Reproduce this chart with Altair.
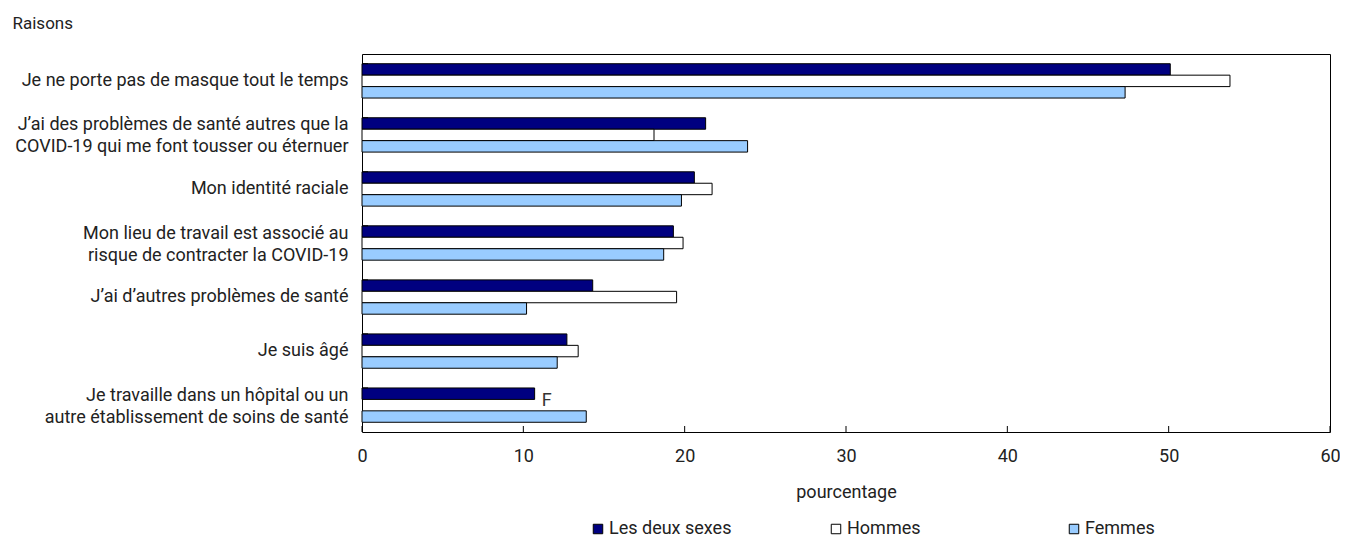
import altair as alt
import pandas as pd

categories = [
    "Je ne porte pas de masque tout le temps",
    "J’ai des problèmes de santé autres que la|COVID-19 qui me font tousser ou éternuer",
    "Mon identité raciale",
    "Mon lieu de travail est associé au|risque de contracter la COVID-19",
    "J’ai d’autres problèmes de santé",
    "Je suis âgé",
    "Je travaille dans un hôpital ou un|autre établissement de soins de santé",
]
series = ["Les deux sexes", "Hommes", "Femmes"]
both = [50.1, 21.3, 20.6, 19.3, 14.3, 12.7, 10.7]
men = [53.8, 18.1, 21.7, 19.9, 19.5, 13.4, None]
women = [47.3, 23.9, 19.8, 18.7, 10.2, 12.1, 13.9]
colors = ["#000080", "#ffffff", "#99ccff"]
x_ticks = [0, 10, 20, 30, 40, 50, 60]
note_category = categories[6]
note_text = "F"

rows = []
for i, c in enumerate(categories):
    for s, vals in zip(series, [both, men, women]):
        if vals[i] is not None:
            rows.append({"cat": c, "serie": s, "val": vals[i]})
df = pd.DataFrame(rows)
df_cats = pd.DataFrame({"cat": categories})
df_ticks = pd.DataFrame({"t": x_ticks})
df_note = pd.DataFrame({"cat": [note_category], "serie": ["Hommes"],
                        "val": [both[categories.index(note_category)]], "txt": [note_text]})

FONT = "Roboto, Liberation Sans, sans-serif"
FS = 18
W, H = 968, 378
TXT = "#222222"

xscale = alt.Scale(domain=[0, 60], nice=False)
yscale = alt.Scale(paddingInner=0.365, paddingOuter=0.18)

def ybuild(**kw):
    return alt.Y("cat:N", sort=categories, scale=yscale,
                 axis=alt.Axis(title="Raisons", titleAngle=0, titleAlign="left",
                               titleBaseline="alphabetic", titleX=-350, titleY=-26,
                               titleFont=FONT, titleFontSize=17, titleFontWeight="normal",
                               titleColor=TXT,
                               labelExpr="split(datum.label, '|')", labelFont=FONT,
                               labelFontSize=FS, labelColor=TXT, labelPadding=14,
                               labelLineHeight=22, labelLimit=400,
                               labelOffset={"condition": {"test": "indexof(datum.value, '|') >= 0",
                                                          "value": -9.5}, "value": 0},
                               ticks=False, domain=False, grid=False), **kw)

def xbuild(field):
    return alt.X(field, scale=xscale,
                 axis=alt.Axis(title="pourcentage", values=x_ticks, grid=False, ticks=False,
                               domain=False, labelFont=FONT, labelFontSize=FS,
                               labelColor=TXT, labelPadding=15, labelFlush=False,
                               titleFont=FONT, titleFontSize=FS, titleFontWeight="normal",
                               titleColor=TXT, titleBaseline="alphabetic", titleY=65))

bars = alt.Chart(df).mark_bar(stroke="black", strokeWidth=1).encode(
    x=xbuild("val:Q"),
    y=ybuild(),
    yOffset=alt.YOffset("serie:N", sort=series, scale=alt.Scale(paddingInner=0, paddingOuter=0)),
    color=alt.Color("serie:N", sort=series,
                    scale=alt.Scale(domain=series, range=colors),
                    legend=alt.Legend(title=None, orient="none", legendX=227, legendY=466,
                                      direction="horizontal", columns=3, gridAlign="all",
                                      symbolType="square", symbolSize=90,
                                      symbolStrokeColor="black", symbolStrokeWidth=1,
                                      labelFont=FONT, labelFontSize=FS, labelColor=TXT,
                                      labelOffset=2, columnPadding=95)),
)

ytick = alt.Chart(df_cats).mark_rule(color="black", strokeWidth=1).encode(
    y=ybuild(bandPosition=0),
    x=alt.value(0), x2=alt.value(6),
)

xtick = alt.Chart(df_ticks).mark_rule(color="black", strokeWidth=1).encode(
    x=xbuild("t:Q"),
    y=alt.value(H - 6), y2=alt.value(H),
)

note = alt.Chart(df_note).mark_text(align="left", baseline="middle", dx=7, dy=-4,
                                    font=FONT, fontSize=18, color="#333333").encode(
    x=xbuild("val:Q"),
    y=ybuild(),
    yOffset=alt.YOffset("serie:N", sort=series, scale=alt.Scale(paddingInner=0, paddingOuter=0)),
    text="txt:N",
)

chart = alt.layer(bars, ytick, xtick, note).properties(
    width=W, height=H,
    autosize=alt.AutoSizeParams(type="none"),
    padding={"left": 354, "top": 46, "right": 10, "bottom": 106},
).configure(background="white").configure_view(stroke="black", strokeWidth=1)

chart.save("out.html", embed_options={"renderer": "svg", "actions": False})
